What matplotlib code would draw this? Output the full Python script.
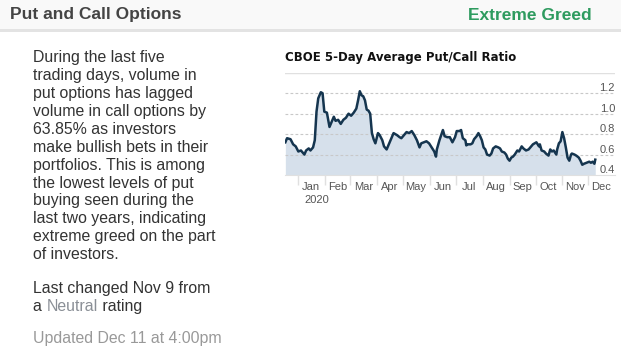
import numpy as np
import pandas as pd
import matplotlib
matplotlib.use('Agg')
import matplotlib.pyplot as plt
import matplotlib.dates as mdates
from matplotlib.patches import Rectangle

# days counted from Jan 1 2020
days = [-15, -13, -9, -6, -3, 0, 3, 7, 9, 12, 14, 17, 19, 21, 23, 26, 28, 30,
        33, 36, 38, 41, 43, 46, 49, 52, 55, 58, 61, 64, 67, 69, 71, 73, 75, 77,
        79, 81, 83, 85, 87, 89, 92, 94, 97, 99, 102, 105, 108, 110, 114, 117,
        119, 122, 125, 128, 131, 134, 137, 140, 142, 145, 148, 151, 154, 157,
        159, 160, 163, 165, 167, 169, 172, 175, 178, 181, 183, 186, 188, 190,
        193, 194, 196, 199, 201, 203, 206, 208, 210, 212, 214, 216, 218, 221,
        223, 225, 228, 231, 233, 235, 238, 240, 242, 244, 246, 248, 250, 253,
        255, 258, 260, 263, 266, 268, 271, 273, 275, 278, 279, 281, 284, 286,
        289, 291, 293, 295, 298, 299, 301, 303, 305, 307, 309, 311, 313, 315,
        316, 319, 321, 324, 326, 328, 330, 333, 336, 338, 340, 342, 343]
ratio = [0.72, 0.76, 0.75, 0.70, 0.68, 0.63, 0.64, 0.60, 0.64, 0.66, 0.64, 0.67,
         0.74, 1.02, 1.15, 1.21, 1.20, 1.02, 1.01, 0.87, 0.91, 0.97, 0.93, 0.94,
         0.90, 0.94, 0.96, 1.00, 0.98, 1.01, 1.05, 1.13, 1.22, 1.18, 1.17, 1.13,
         1.04, 1.03, 1.00, 0.81, 0.75, 0.71, 0.81, 0.79, 0.74, 0.68, 0.65, 0.71,
         0.77, 0.81, 0.79, 0.77, 0.76, 0.79, 0.82, 0.81, 0.83, 0.79, 0.74, 0.67,
         0.71, 0.72, 0.73, 0.71, 0.67, 0.63, 0.58, 0.65, 0.74, 0.79, 0.84, 0.78,
         0.77, 0.77, 0.72, 0.77, 0.83, 0.83, 0.84, 0.76, 0.74, 0.69, 0.70, 0.70,
         0.71, 0.75, 0.78, 0.81, 0.78, 0.74, 0.67, 0.65, 0.60, 0.59, 0.61, 0.66,
         0.68, 0.67, 0.66, 0.63, 0.62, 0.60, 0.56, 0.54, 0.57, 0.58, 0.60, 0.64,
         0.63, 0.68, 0.66, 0.64, 0.65, 0.67, 0.70, 0.71, 0.72, 0.68, 0.70, 0.64,
         0.63, 0.61, 0.59, 0.65, 0.63, 0.64, 0.60, 0.65, 0.71, 0.73, 0.82, 0.76,
         0.67, 0.57, 0.54, 0.60, 0.61, 0.60, 0.59, 0.57, 0.54, 0.50, 0.51, 0.52,
         0.53, 0.52, 0.53, 0.51, 0.55]
y_ticks = [0.4, 0.6, 0.8, 1.0, 1.2]

body_lines = ["During the last five", "trading days, volume in",
              "put options has lagged", "volume in call options by",
              "63.85% as investors", "make bullish bets in their",
              "portfolios. This is among", "the lowest levels of put",
              "buying seen during the", "last two years, indicating",
              "extreme greed on the part", "of investors."]

plt.rcParams['font.family'] = ['Liberation Sans', 'DejaVu Sans']

W, H = 621, 350
fig = plt.figure(figsize=(W / 100, H / 100), dpi=100)
fig.patch.set_facecolor('white')

# header band
fig.patches.append(Rectangle((0, 1 - 29 / H), 1, 29 / H, transform=fig.transFigure,
                             facecolor='#f9f9f9', edgecolor='none', zorder=0))
fig.patches.append(Rectangle((0, 1 - 32 / H), 1, 3 / H, transform=fig.transFigure,
                             facecolor='#e3e3e3', edgecolor='none', zorder=0))
fig.text(10 / W, 1 - 15 / H, "Put and Call Options", fontsize=12.5, fontweight='bold',
         color='#444444', va='center', ha='left')
fig.text(592 / W, 1 - 15 / H, "Extreme Greed", fontsize=12.5, fontweight='bold',
         color='#2e9b5f', va='center', ha='right')

# left text
fs = 11.4
y0 = 57.7
for i, line in enumerate(body_lines):
    fig.text(33 / W, 1 - (y0 + i * 17.9) / H, line, fontsize=fs, color='#333333',
             va='center', ha='left')
fig.text(33 / W, 1 - 288.3 / H, "Last changed Nov 9 from", fontsize=fs,
         color='#333333', va='center', ha='left')

# "a Neutral rating" with the middle word in grey, laid out piece by piece
renderer = fig.canvas.get_renderer()
x = 33
for piece, col in [("a ", '#333333'), ("Neutral", '#8a8f96'), (" rating", '#333333')]:
    t = fig.text(x / W, 1 - 306.7 / H, piece, fontsize=fs, color=col,
                 va='center', ha='left')
    x += t.get_window_extent(renderer).width
fig.text(33 / W, 1 - 339 / H, "Updated Dec 11 at 4:00pm", fontsize=fs,
         color='#999999', va='center', ha='left')

# chart
fig.text(285 / W, 1 - 57 / H, "CBOE 5-Day Average Put/Call Ratio", fontsize=8.5,
         fontweight='bold', color='#111111', va='center', ha='left',
         family='DejaVu Sans')

ax = fig.add_axes([285 / W, 1 - 175 / H, 330 / W, (175 - 72.8) / H])
start = pd.Timestamp('2020-01-01')
dates = start + pd.to_timedelta(days, unit='D')
ax.fill_between(dates, ratio, 0.4, color='#d6e0eb', linewidth=0, zorder=1)
ax.plot(dates, ratio, color='#15354f', linewidth=1.8, zorder=3)

ax.set_xlim(start + pd.Timedelta(days=-15.4), start + pd.Timedelta(days=365.8))
ax.set_ylim(0.4, 1.4)
for v in y_ticks[1:]:
    ax.axhline(v, color='#c8c8c8', linewidth=0.8, linestyle=(0, (2.5, 2)), zorder=2)
ax.axhline(1.4, color='#e0e0e0', linewidth=1.0, zorder=2)
for v in y_ticks:
    ax.text(1.0, v, f"{v:.1f}", transform=ax.get_yaxis_transform(), ha='right',
            va='bottom', fontsize=8, color='#555555')
ax.set_yticks([])

for s in ['top', 'right', 'left']:
    ax.spines[s].set_visible(False)
ax.spines['bottom'].set_color('#e0e0e0')
ax.xaxis.set_major_locator(mdates.MonthLocator())
ax.xaxis.set_major_formatter(plt.NullFormatter())
ax.xaxis.set_minor_locator(mdates.MonthLocator(bymonthday=16))
ax.xaxis.set_minor_formatter(mdates.DateFormatter('%b'))
ax.tick_params(axis='x', which='major', length=7, color='#e0e0e0', width=1)
ax.tick_params(axis='x', which='minor', length=0, labelsize=8, labelcolor='#555555', pad=5)
fig.text(304 / W, 1 - 200 / H, "2020", fontsize=8, color='#555555', va='center', ha='left')

fig.savefig('out.png', dpi=100)
